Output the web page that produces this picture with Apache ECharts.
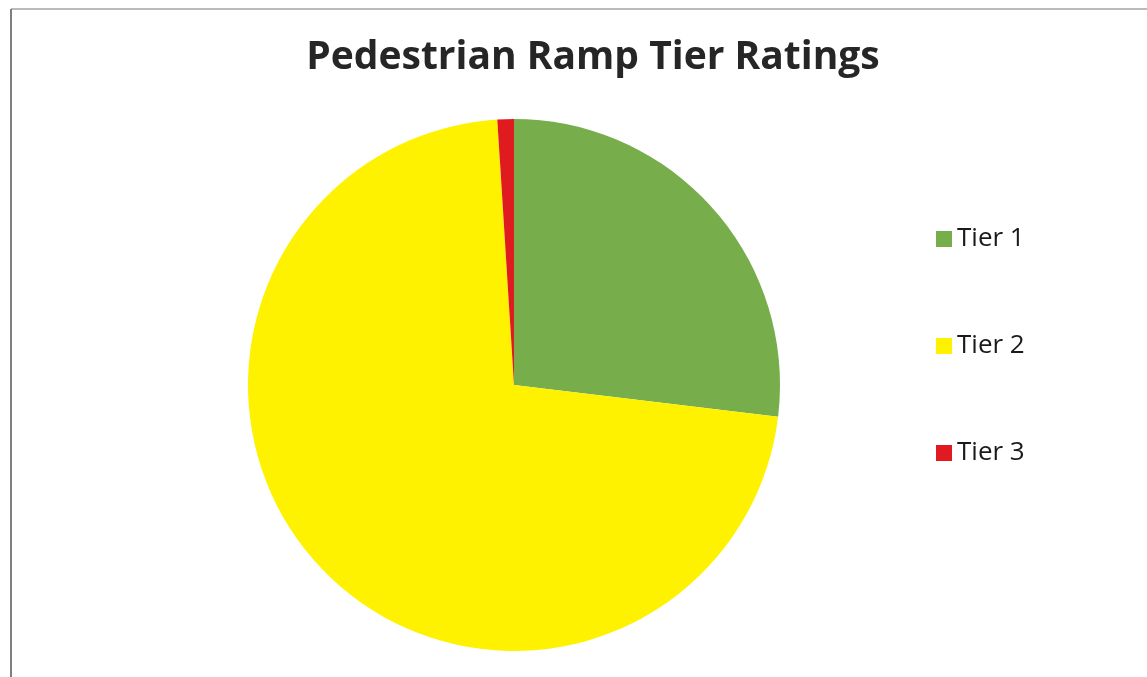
<!DOCTYPE html>
<html>
<head>
<meta charset="utf-8">
<script src="https://cdn.jsdelivr.net/npm/echarts@6/dist/echarts.min.js"></script>
<style>
html,body{margin:0;padding:0;background:#fff;}
#c{width:1147px;height:677px;}
</style>
</head>
<body>
<div id="c"></div>
<script>
const titleText = 'Pedestrian Ramp Tier Ratings';
const categories = ['Tier 1', 'Tier 2', 'Tier 3'];
const values = [26.9, 72.1, 1.0];
const colors = ['#77ad4a', '#fff200', '#e01b1f'];

const chart = echarts.init(document.getElementById('c'), null, {renderer: 'canvas'});
chart.setOption({
  backgroundColor: '#ffffff',
  animation: false,
  title: {
    text: titleText,
    left: 588,
    textAlign: 'center',
    top: 33,
    textStyle: {fontFamily: 'Open Sans', fontWeight: 'bold', fontSize: 39, color: '#262626'}
  },
  legend: {
    orient: 'vertical',
    left: 931,
    top: 219,
    itemWidth: 16,
    itemHeight: 16,
    itemGap: 77,
    icon: 'rect',
    data: categories,
    textStyle: {fontFamily: 'Open Sans', fontSize: 26, color: '#1a1a1a', lineHeight: 30, padding: [0,0,0,0]}
  },
  graphic: [
    {type: 'line', shape: {x1: 11, y1: 9, x2: 11, y2: 677}, style: {stroke: '#555', lineWidth: 1.5}},
    {type: 'line', shape: {x1: 11, y1: 9, x2: 1147, y2: 9}, style: {stroke: '#777', lineWidth: 1.2}}
  ],
  series: [{
    type: 'pie',
    center: [514, 385],
    radius: [0, 266],
    startAngle: 90,
    clockwise: true,
    label: {show: false},
    labelLine: {show: false},
    emphasis: {disabled: true},
    itemStyle: {borderWidth: 0},
    data: categories.map((n, i) => ({name: n, value: values[i], itemStyle: {color: colors[i]}}))
  }]
});
</script>
</body>
</html>
